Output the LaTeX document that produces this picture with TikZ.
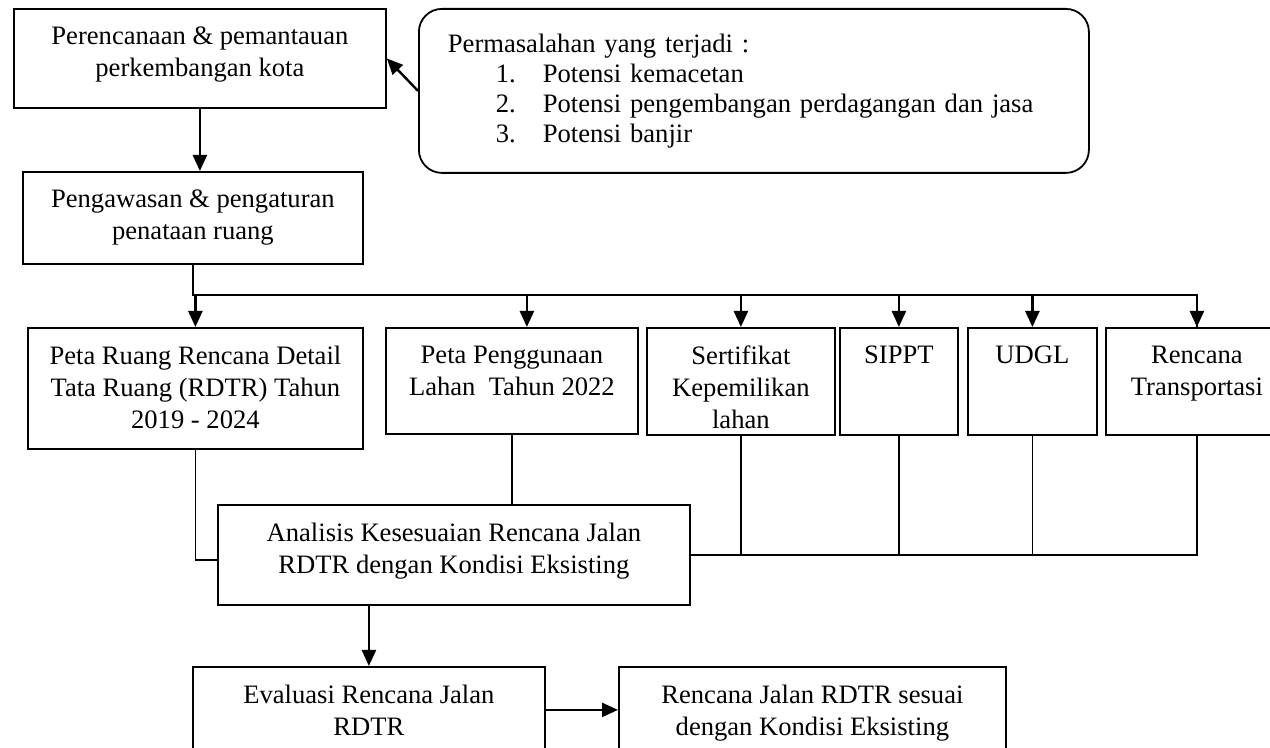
\documentclass[tikz,border=0pt]{standalone}
\usepackage{fontspec}
\setmainfont{Liberation Serif}
\usetikzlibrary{arrows.meta}
\newcommand{\teks}{\fontsize{13.3}{16}\selectfont}

\begin{document}
\begin{tikzpicture}[x=0.5pt,y=-0.5pt,
    kotak/.style={draw, line width=0.9pt, anchor=north west, inner sep=0pt},
    isi/.style={anchor=north, inner sep=0pt, yshift=-9.2pt, align=center, font=\teks},
    garis/.style={line width=0.8pt},
    panah/.style={line width=1.2pt, -{Triangle[length=8pt,width=7pt]}}]
  \useasboundingbox (0,0) rectangle (1270,748);
  \clip (0,0) rectangle (1270,748);
  % baris atas
  \node[kotak, minimum width=186pt, minimum height=49.5pt,
    label={[isi]north:{Perencanaan \& pemantauan\\perkembangan kota}}] (perencanaan) at (13,8) {};
  \node[kotak, rounded corners=11.5pt, text width=306pt, inner xsep=14.5pt, minimum height=82pt,
    align=left, font=\fontsize{13.3}{15}\selectfont] (masalah) at (418,8)
    {Permasalahan yang terjadi :\\
     \hspace*{24pt}\makebox[23.5pt][l]{1.}Potensi kemacetan\\
     \hspace*{24pt}\makebox[23.5pt][l]{2.}Potensi pengembangan perdagangan dan jasa\\
     \hspace*{24pt}\makebox[23.5pt][l]{3.}Potensi banjir};
  \node[kotak, minimum width=170pt, minimum height=46pt,
    label={[isi]north:{Pengawasan \& pengaturan\\penataan ruang}}] (pengawasan) at (22,171) {};
  % data
  \node[kotak, minimum width=167.5pt, minimum height=60.5pt,
    label={[isi]north:{Peta Ruang Rencana Detail\\Tata Ruang (RDTR) Tahun\\2019 - 2024}}] (petaruang) at (27,327) {};
  \node[kotak, minimum width=126pt, minimum height=53pt,
    label={[isi]north:{Peta Penggunaan\\Lahan~ Tahun 2022}}] (penggunaan) at (385,327) {};
  \node[kotak, minimum width=94pt, minimum height=53.5pt,
    label={[isi]north:{Sertifikat\\Kepemilikan\\lahan}}] (sertifikat) at (646,327) {};
  \node[kotak, minimum width=59pt, minimum height=53.5pt,
    label={[isi]north:SIPPT}] (sippt) at (839,327) {};
  \node[kotak, minimum width=64.5pt, minimum height=53.5pt,
    label={[isi]north:UDGL}] (udgl) at (967,327) {};
  \node[kotak, minimum width=91pt, minimum height=53.5pt,
    label={[isi]north:{Rencana\\Transportasi}}] (transport) at (1105,327) {};
  % analisis dan hasil
  \node[kotak, minimum width=236pt, minimum height=50pt,
    label={[isi]north:{Analisis Kesesuaian Rencana Jalan\\RDTR dengan Kondisi Eksisting}}] (analisis) at (217,504) {};
  \node[kotak, minimum width=176pt, minimum height=43pt,
    label={[isi]north:{Evaluasi Rencana Jalan\\RDTR}}] (evaluasi) at (192,666) {};
  \node[kotak, minimum width=193.5pt, minimum height=43pt,
    label={[isi]north:{Rencana Jalan RDTR sesuai\\dengan Kondisi Eksisting}}] (rencanajalan) at (618,666) {};

  \coordinate (cabang) at (0,295);
  \draw[panah] (masalah.west) -- (perencanaan.east);
  \draw[panah] (perencanaan.south) -- (perencanaan.south |- pengawasan.north);
  \draw[garis] (pengawasan.south) -- (pengawasan.south |- cabang) -| (transport.north);
  \foreach \n in {petaruang,sertifikat,sippt,udgl,transport}
    \draw[panah] (\n.north |- cabang) -- (\n.north);
  \draw[panah] ([xshift=7.5pt]penggunaan.north |- cabang) -- ([xshift=7.5pt]penggunaan.north);
  \draw[garis] (petaruang.south) |- ([yshift=-2.5pt]analisis.west);
  \draw[garis] (penggunaan.south) -- (penggunaan.south |- analisis.north);
  \draw[garis] (analisis.east) -| (transport.south);
  \foreach \n in {sertifikat,sippt,udgl}
    \draw[garis] (\n.south) -- (\n.south |- analisis.east);
  \draw[panah] (evaluasi.north |- analisis.south) -- (evaluasi.north);
  \draw[panah] (evaluasi.east) -- (rencanajalan.west);
\end{tikzpicture}
\end{document}
